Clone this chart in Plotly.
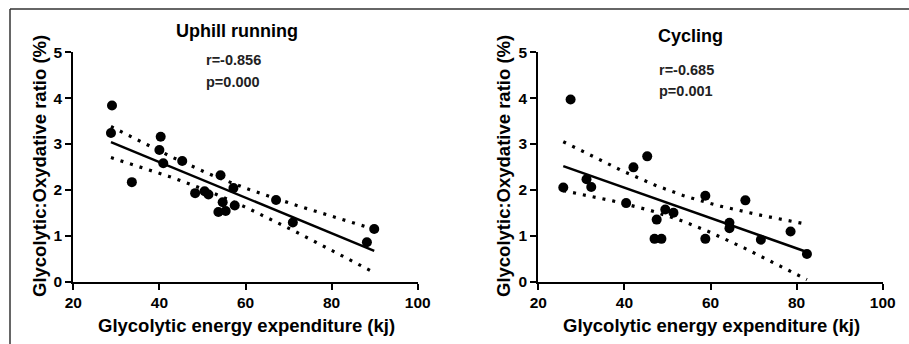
import numpy as np
import plotly.graph_objects as go

# ---- data ----
run_x = [28.99, 28.75, 33.6, 40.3, 40.0, 40.9, 45.3, 48.3, 50.5, 51.4,
         54.2, 53.7, 54.7, 55.4, 57.2, 57.5, 67.1, 71.0, 88.2, 89.9]
run_y = [3.84, 3.24, 2.17, 3.16, 2.87, 2.58, 2.63, 1.93, 1.97, 1.90,
         2.32, 1.52, 1.73, 1.54, 2.04, 1.66, 1.78, 1.29, 0.86, 1.15]

cyc_x = [27.5, 25.8, 31.2, 32.3, 40.4, 42.1, 45.3, 47.5, 47.0, 48.6,
         49.5, 51.4, 58.8, 58.8, 64.4, 64.4, 68.1, 71.7, 78.6, 82.4]
cyc_y = [3.97, 2.05, 2.23, 2.06, 1.71, 2.49, 2.73, 1.35, 0.93, 0.93,
         1.57, 1.50, 1.87, 0.93, 1.28, 1.16, 1.77, 0.91, 1.09, 0.60]

panel_titles = ["Uphill running", "Cycling"]
panel_r = ["r=-0.856", "r=-0.685"]
panel_p = ["p=0.000", "p=0.001"]
x_ticks = [20, 40, 60, 80, 100]
y_ticks = [0, 1, 2, 3, 4, 5]
x_title = "Glycolytic energy expenditure (kj)"
y_title = "Glycolytic:Oxydative ratio (%)"
T_CRIT = 2.101  # 95% two-sided, df = 18

FONT = "Liberation Sans"


def fit_band(x, y):
    x = np.asarray(x, float)
    y = np.asarray(y, float)
    n = len(x)
    b, a = np.polyfit(x, y, 1)
    xs = np.linspace(x.min(), x.max(), 60)
    yhat = a + b * xs
    resid = y - (a + b * x)
    s = np.sqrt(np.sum(resid ** 2) / (n - 2))
    sxx = np.sum((x - x.mean()) ** 2)
    half = T_CRIT * s * np.sqrt(1.0 / n + (xs - x.mean()) ** 2 / sxx)
    return xs, yhat, yhat + half, yhat - half


fig = go.Figure()

W, H = 909, 344
domains = [
    dict(x=[73.3 / W, 417.7 / W], y=[1 - 281.7 / H, 1 - 52.3 / H]),
    dict(x=[538.3 / W, 882.7 / W], y=[1 - 281.5 / H, 1 - 52.3 / H]),
]

datasets = [(run_x, run_y), (cyc_x, cyc_y)]
for i, (xv, yv) in enumerate(datasets):
    xa = "x" if i == 0 else "x2"
    ya = "y" if i == 0 else "y2"
    xs, yhat, up, lo = fit_band(xv, yv)
    for band in (up, lo):
        fig.add_trace(go.Scatter(
            x=xs, y=band, mode="lines", xaxis=xa, yaxis=ya,
            line=dict(color="black", width=3.2, dash="3px,7px"),
            hoverinfo="skip", showlegend=False))
    fig.add_trace(go.Scatter(
        x=xs, y=yhat, mode="lines", xaxis=xa, yaxis=ya,
        line=dict(color="black", width=2.5), showlegend=False))
    fig.add_trace(go.Scatter(
        x=xv, y=yv, mode="markers", xaxis=xa, yaxis=ya,
        marker=dict(color="black", size=10), cliponaxis=False,
        showlegend=False))

axis_common = dict(
    showline=True, linecolor="black", linewidth=2,
    ticks="outside", ticklen=6, tickwidth=2, tickcolor="black",
    showgrid=False, zeroline=False, automargin=False,
    tickfont=dict(family=FONT, size=15.5, color="black", weight="bold"),
)

layout = dict(
    width=W, height=H,
    margin=dict(l=0, r=0, t=0, b=0),
    paper_bgcolor="white", plot_bgcolor="white",
    showlegend=False,
)

for i in range(2):
    sx = "" if i == 0 else "2"
    layout["xaxis" + sx] = dict(
        axis_common, domain=domains[i]["x"], range=[20, 100],
        tickvals=x_ticks, anchor="y" + sx)
    layout["yaxis" + sx] = dict(
        axis_common, domain=domains[i]["y"], range=[0, 5],
        tickvals=y_ticks, anchor="x" + sx)

fig.update_layout(**layout)

title_pos = [(236.7, 31), (690, 36)]
r_pos = [(204, 60), (656.7, 70)]
p_pos = [(204, 82), (656.7, 91)]
xtitle_pos = [(247, 325), (711.7, 325)]
ytitle_pos = [(39, 166), (503, 166)]
for i in range(2):
    fig.add_annotation(
        text=panel_titles[i], xref="paper", yref="paper",
        x=title_pos[i][0] / W, y=1 - title_pos[i][1] / H,
        xanchor="center", yanchor="middle", showarrow=False,
        font=dict(family=FONT, size=18, color="black", weight="bold"))
    for txt, pos in ((panel_r[i], r_pos[i]), (panel_p[i], p_pos[i])):
        fig.add_annotation(
            text=txt, xref="paper", yref="paper",
            x=pos[0] / W, y=1 - pos[1] / H,
            xanchor="left", yanchor="middle", showarrow=False,
            font=dict(family=FONT, size=14.5, color="#222", weight="bold"))
    fig.add_annotation(
        text=x_title, xref="paper", yref="paper",
        x=xtitle_pos[i][0] / W, y=1 - xtitle_pos[i][1] / H,
        xanchor="center", yanchor="middle", showarrow=False,
        font=dict(family=FONT, size=18.5, color="black", weight="bold"))
    fig.add_annotation(
        text=y_title, xref="paper", yref="paper", textangle=-90,
        x=ytitle_pos[i][0] / W, y=1 - ytitle_pos[i][1] / H,
        xanchor="center", yanchor="middle", showarrow=False,
        font=dict(family=FONT, size=18.5, color="black", weight="bold"))

# outer frame (top and left edges)
fig.add_shape(type="line", xref="paper", yref="paper",
              x0=10 / W, x1=1, y0=1 - 9 / H, y1=1 - 9 / H,
              line=dict(color="#333", width=1.5))
fig.add_shape(type="line", xref="paper", yref="paper",
              x0=10 / W, x1=10 / W, y0=1 - 9 / H, y1=0,
              line=dict(color="#333", width=1.5))

fig.write_html(
    "out.html",
    config={"displayModeBar": False},
    post_script="document.body.style.margin='0';document.body.style.padding='0';",
)
